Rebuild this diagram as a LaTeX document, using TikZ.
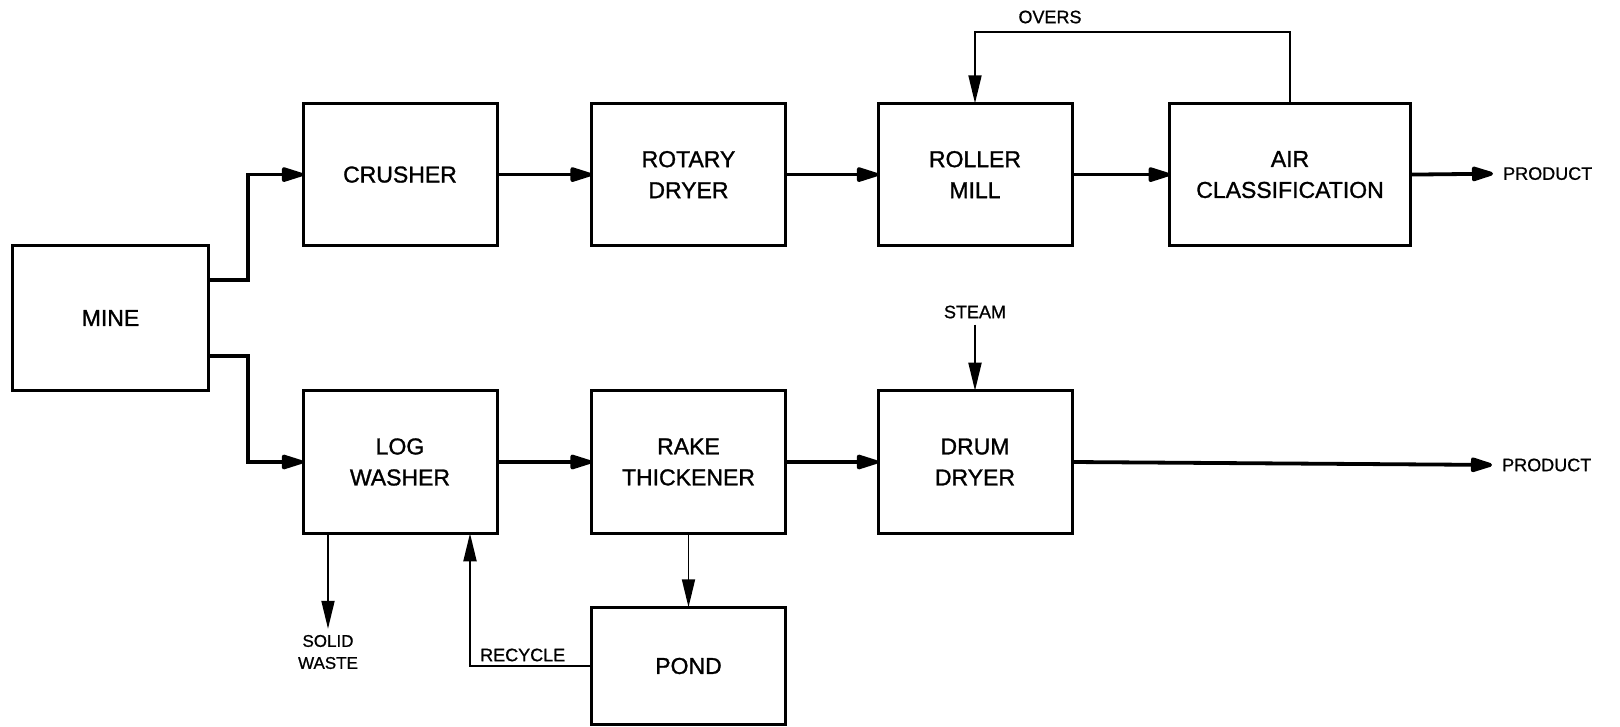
\documentclass[tikz,border=0pt]{standalone}
\usepackage{fontspec}
\setmainfont{Liberation Sans}[FakeBold=1.2]
\newfontfamily\boxfont{Liberation Sans}[FakeBold=1.2]
\newfontfamily\lblfont{Liberation Sans}[FakeBold=0.8]
\usetikzlibrary{arrows.meta}
\begin{document}
\begin{tikzpicture}[x=1pt,y=-1pt,
 box/.style={draw,line width=3pt,minimum width=194pt,minimum height=142.6pt,inner sep=0pt,outer sep=0pt,align=center,font=\boxfont\fontsize{23}{31}\selectfont},
 flow/.style={line width=3.8pt,-{Triangle[length=26pt,width=15pt,round]}},
 thinflow/.style={line width=1.9pt,-{Triangle[length=28pt,width=13pt]}},
 lbl/.style={font=\lblfont\fontsize{18}{23}\selectfont,inner sep=0pt,align=center}]
\useasboundingbox (0,0) rectangle (1620,727);
% boxes
\node[box,minimum width=196pt,minimum height=144.5pt] (mine) at (110.5,318) {MINE};
\node[box] (crusher) at (400,174.6) {CRUSHER};
\node[box] (rotary) at (688.5,174.6) {ROTARY\\DRYER};
\node[box] (roller) at (975,174.6) {ROLLER\\MILL};
\node[box,minimum width=240.7pt] (air) at (1290,174.6) {AIR\\CLASSIFICATION};
\node[box] (log) at (400,462) {LOG\\WASHER};
\node[box] (rake) at (688.5,462) {RAKE\\THICKENER};
\node[box] (drum) at (975,462) {DRUM\\DRYER};
\node[box,minimum height=117.5pt] (pond) at (688.5,666) {POND};
% labels
\node[lbl,anchor=west] (p1) at (1503,173.6) {PRODUCT};
\node[lbl,anchor=west] (p2) at (1502,465) {PRODUCT};
\node[lbl] (overs) at (1050,17) {OVERS};
\node[lbl] (steam) at (975,312) {STEAM};
\node[lbl,font=\lblfont\fontsize{17}{22}\selectfont] (waste) at (328,652) {SOLID\\WASTE};
\node[lbl,anchor=west] (recyc) at (480,655) {RECYCLE};
\coordinate (rc) at (470,0);
\coordinate (ot) at (0,32);
% connectors
\draw[flow] ([yshift=38pt]mine.east) -- ++(39.5,0) |- (crusher.west);
\draw[flow] ([yshift=-38pt]mine.east) -- ++(39.5,0) |- (log.west);
\draw[flow] (crusher.east) -- (rotary.west);
\draw[flow] (rotary.east) -- (roller.west);
\draw[flow] (roller.east) -- (air.west);
\draw[flow,shorten >=10pt] (air.east) -- (p1.west);
\draw[flow] (log.east) -- (rake.west);
\draw[flow] (rake.east) -- (drum.west);
\draw[flow,shorten >=10pt] (drum.east) -- (p2.west);
\draw[thinflow] (air.north) -- (air.north |- ot) -| (roller.north);
\draw[thinflow] ([yshift=-6pt]steam.south) -- (drum.north);
\draw[thinflow] (rake.south) -- (pond.north);
\draw[thinflow] (log.south -| waste) -- ([yshift=6pt]waste.north);
\draw[thinflow] (pond.west) -| (rc |- log.south);
\end{tikzpicture}
\end{document}
